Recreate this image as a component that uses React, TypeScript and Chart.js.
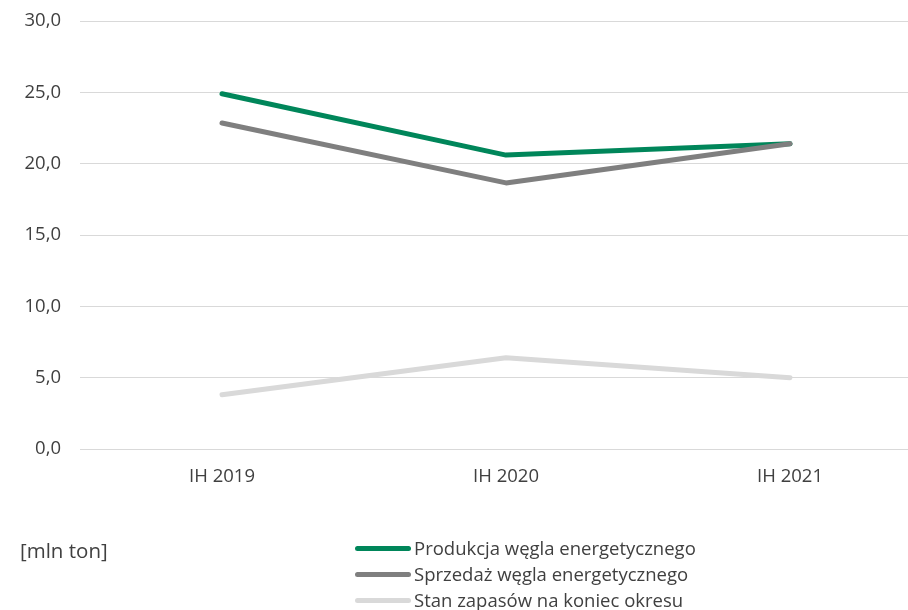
import React, { useEffect, useRef } from "react";
import { Chart, registerables } from "chart.js";

Chart.register(...registerables);

const categories = ["IH 2019", "IH 2020", "IH 2021"];
const produkcja = [24.9, 20.6, 21.4];
const sprzedaz = [22.85, 18.65, 21.4];
const zapasy = [3.8, 6.4, 5.0];
const seriesNames = [
  "Produkcja węgla energetycznego",
  "Sprzedaż węgla energetycznego",
  "Stan zapasów na koniec okresu",
];
const seriesColors = ["#00865a", "#7f7f7f", "#d9d9d9"];
const unitLabel = "[mln ton]";

const FONT = "'Open Sans', sans-serif";
const TEXT = "#404040";

export default function App() {
  const ref = useRef<HTMLCanvasElement | null>(null);

  useEffect(() => {
    const canvas = ref.current;
    if (!canvas) return;
    const toPts = (arr: number[]) => arr.map((y, i) => ({ x: i, y }));
    const values = [produkcja, sprzedaz, zapasy];
    const chart = new Chart(canvas, {
      type: "line",
      data: {
        datasets: values.map((v, i) => ({
          label: seriesNames[i],
          data: toPts(v),
          borderColor: seriesColors[i],
          backgroundColor: seriesColors[i],
          borderWidth: 5,
          borderCapStyle: "round",
          borderJoinStyle: "round",
          pointRadius: 0,
          pointHoverRadius: 0,
          tension: 0,
          fill: false,
          order: [2, 1, 0][i],
        })),
      },
      options: {
        responsive: false,
        animation: false,
        layout: { padding: { top: 0, right: 0, bottom: 0, left: 0 } },
        plugins: {
          legend: { display: false },
          tooltip: { enabled: false },
        },
        scales: {
          x: {
            type: "linear",
            min: -0.5,
            max: 2.4155,
            grid: { display: false, drawTicks: false },
            border: { display: false },
            afterBuildTicks: (s: any) => {
              s.ticks = categories.map((_, i) => ({ value: i }));
            },
            afterFit: (s: any) => {
              s.height = 161;
              s.paddingLeft = 0;
              s.paddingRight = 0;
            },
            ticks: {
              padding: 17,
              color: TEXT,
              font: { family: FONT, size: 18.5 },
              callback: (v: any) => categories[Number(v)] ?? "",
              maxRotation: 0,
              autoSkip: false,
            },
          },
          y: {
            min: 0,
            max: 30,
            grid: { color: "#d9d9d9", lineWidth: 1, drawTicks: false },
            border: { display: false },
            afterFit: (s: any) => {
              s.width = 80;
              s.paddingTop = 21;
              s.paddingBottom = 0;
            },
            ticks: {
              stepSize: 5,
              padding: 19,
              color: TEXT,
              font: { family: FONT, size: 18.5 },
              callback: (v: any) => Number(v).toFixed(1).replace(".", ","),
            },
          },
        },
      },
    } as any);
    return () => chart.destroy();
  }, []);

  const rowTops = [548, 574, 600];

  return (
    <div
      style={{
        position: "fixed",
        left: 0,
        top: 0,
        width: 908,
        height: 610,
        background: "#fff",
        fontFamily: FONT,
        color: TEXT,
      }}
    >
      <canvas ref={ref} width={908} height={610} style={{ width: 908, height: 610, display: "block" }} />
      <div
        style={{
          position: "absolute",
          left: 20,
          top: 550 - 13,
          fontSize: 20.5,
          lineHeight: "26px",
          whiteSpace: "nowrap",
        }}
      >
        {unitLabel}
      </div>
      {seriesNames.map((name, i) => (
        <div
          key={name}
          style={{
            position: "absolute",
            left: 355,
            top: rowTops[i] - 13,
            height: 26,
            display: "flex",
            alignItems: "center",
            whiteSpace: "nowrap",
          }}
        >
          <div
            style={{
              width: 56,
              height: 5,
              borderRadius: 3,
              background: seriesColors[i],
              marginRight: 3,
            }}
          />
          <span style={{ fontSize: 18.5, lineHeight: "26px" }}>{name}</span>
        </div>
      ))}
    </div>
  );
}
